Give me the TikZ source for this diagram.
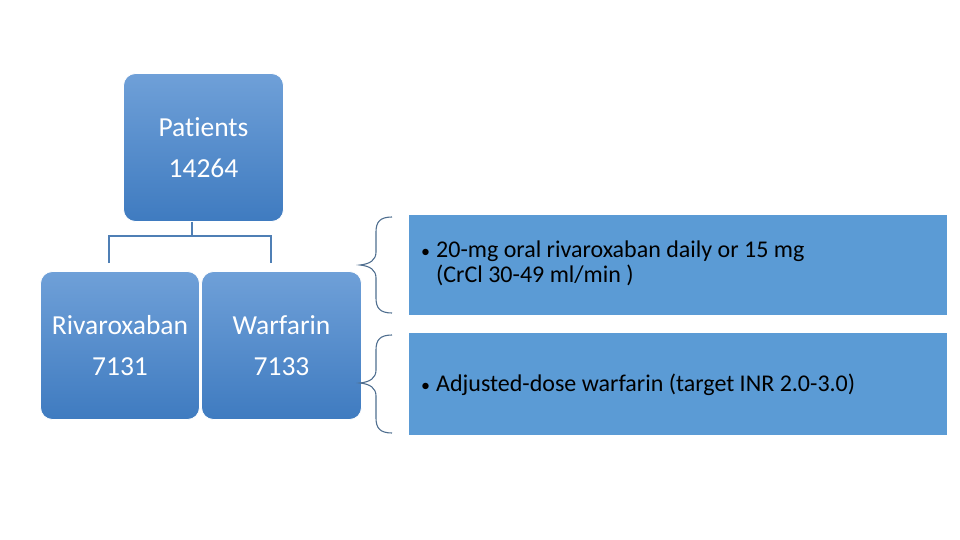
\documentclass[tikz,border=0pt]{standalone}
\usepackage{fontspec}
\setmainfont[RawFeature=-liga]{Carlito}
\definecolor{gtop}{HTML}{6FA0D8}
\definecolor{gbot}{HTML}{3F7BC0}
\definecolor{flat}{HTML}{5B9BD5}
\definecolor{conn}{HTML}{4F7FB5}
\definecolor{brc}{HTML}{4F6E8F}
\newcommand{\mybul}{{\fontsize{18}{18}\selectfont\textbullet}\kern6pt}
\tikzset{
  gbox/.style={draw=white, line width=0.8pt, rounded corners=12pt, top color=gtop, bottom color=gbot,
    text=white, align=center, inner sep=0pt, font=\fontsize{27.5}{40.5}\selectfont},
  fbox/.style={fill=flat, draw=none, inner sep=0pt},
  conline/.style={draw=conn, line width=1.2pt},
  bracel/.style={draw=brc, line width=1.1pt},
  btext/.style={text=black, font=\fontsize{24}{25}\selectfont, inner sep=0pt, anchor=west}
}
\begin{document}
\begin{tikzpicture}[x=1pt,y=-1pt]
\useasboundingbox (0,0) rectangle (960,540);
% top box
\node[gbox, minimum width=160pt, minimum height=148pt] (pat) at (203.5,147.5) {Patients\\14264};
\node[gbox, minimum width=159pt, minimum height=148pt] (riv) at (120,345.5) {Rivaroxaban\\7131};
\node[gbox, minimum width=160pt, minimum height=148pt] (war) at (281.5,345.5) {Warfarin\\7133};
% connector
\coordinate (j) at (192,236);
\coordinate (jl) at (109,236);
\coordinate (jr) at (271,236);
\coordinate (el) at (109,263);
\coordinate (er) at (271,263);
\draw[conline] (pat.south -| j) -- (j);
\draw[conline] (el) -- (jl) -- (jr) -- (er);
% right boxes
\node[fbox, minimum width=538pt, minimum height=100pt] (b1) at (678,265) {};
\node[fbox, minimum width=538pt, minimum height=102pt] (b2) at (678,384) {};
\node[btext] (t1) at (421,265) {\begin{tabular}{@{}l@{}l@{}}\mybul & 20-mg oral rivaroxaban daily or 15 mg\\ & (CrCl 30-49 ml/min )\end{tabular}};
\node[btext] (t2) at (421,385) {\mybul Adjusted-dose warfarin (target INR 2.0-3.0)};
% braces
\draw[bracel] (392,217) .. controls (380,217) and (376,222) .. (376,232) -- (376,252)
  .. controls (376,260) and (370,264) .. (360,265)
  .. controls (370,266) and (376,270) .. (376,278) -- (376,298)
  .. controls (376,308) and (380,313) .. (392,313);
\draw[bracel] (392,335) .. controls (380,335) and (376,340) .. (376,350) -- (376,370)
  .. controls (376,378) and (370,382) .. (360,383)
  .. controls (370,384) and (376,388) .. (376,396) -- (376,418)
  .. controls (376,428) and (380,433) .. (392,433);
\end{tikzpicture}
\end{document}
